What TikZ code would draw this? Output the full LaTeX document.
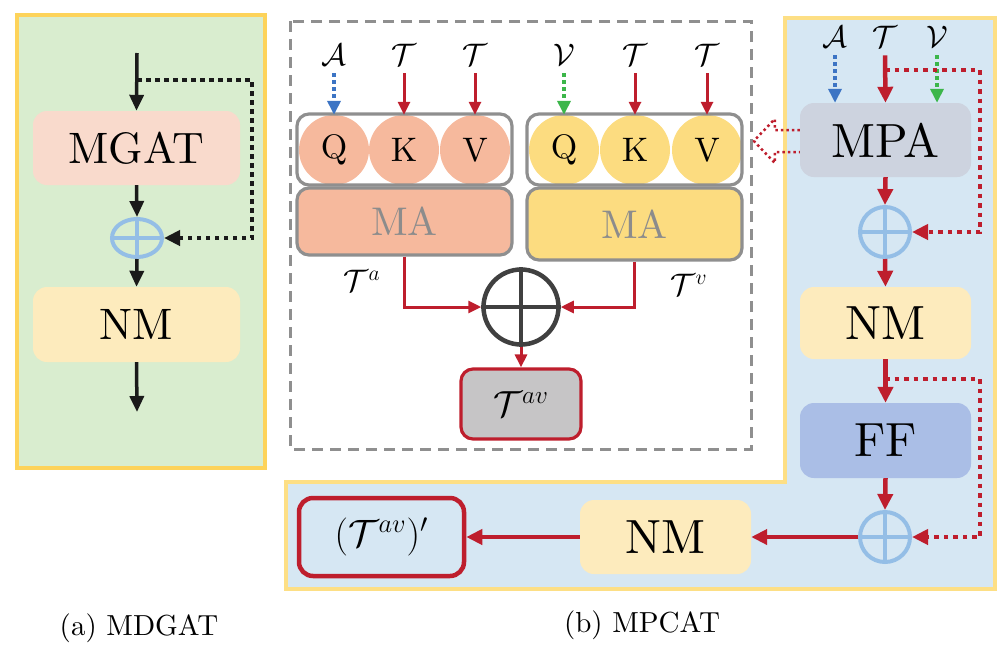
\documentclass[tikz,border=0pt]{standalone}
\usepackage{fontspec}
\setmainfont{lmroman10-regular}[Extension=.otf, BoldFont=lmroman10-bold, ItalicFont=lmroman10-italic]
\usetikzlibrary{arrows.meta,shapes.geometric,calc}
\definecolor{greenbg}{HTML}{D9EDCF}
\definecolor{yelborder}{HTML}{FDD35A}
\definecolor{yelborder2}{HTML}{FDDF85}
\definecolor{mgatc}{HTML}{F9DACC}
\definecolor{nmc}{HTML}{FDEBBD}
\definecolor{plusblue}{HTML}{94BEE6}
\definecolor{salmon}{HTML}{F6B99D}
\definecolor{yelc}{HTML}{FCDC80}
\definecolor{grayb}{HTML}{8F8F8F}
\definecolor{redc}{HTML}{BE1E2D}
\definecolor{bluebg}{HTML}{D6E7F3}
\definecolor{mpac}{HTML}{CDD3DF}
\definecolor{ffc}{HTML}{AABEE6}
\definecolor{tavc}{HTML}{C6C5C6}
\definecolor{dotblue}{HTML}{3C74C4}
\definecolor{dotgreen}{HTML}{3CB64A}
\definecolor{darkplus}{HTML}{404040}
\definecolor{matext}{HTML}{8C8C8C}
\definecolor{blk}{HTML}{1A1A1A}
\tikzset{
  box/.style={rectangle, rounded corners=14pt, inner sep=0pt, anchor=center},
  bigtxt/.style={font=\fontsize{44}{50}\selectfont},
  hugetxt/.style={font=\fontsize{48}{54}\selectfont},
  qkv/.style={circle, minimum size=70pt, inner sep=0pt, font=\fontsize{34}{38}\selectfont},
  cont/.style={rectangle, rounded corners=12pt, draw=grayb, line width=3.2pt, inner sep=0pt},
  lbl/.style={inner sep=1pt, font=\fontsize{20}{24}\selectfont, scale=1.5},
  mathbox/.style={font=\fontsize{20}{24}\selectfont, scale=1.75},
  blkarr/.style={line width=3.5pt, draw=blk, -{Triangle[length=16pt,width=14pt]}},
  blkdot/.style={line width=4.5pt, draw=blk, dash pattern=on 4.5pt off 4.5pt, -{Triangle[length=16pt,width=15pt]}},
  redarr/.style={line width=3pt, draw=redc, -{Triangle[length=13pt,width=12pt]}},
  redthick/.style={line width=4.5pt, draw=redc, -{Triangle[length=16pt,width=15pt]}},
  reddot/.style={line width=4.5pt, draw=redc, dash pattern=on 4.5pt off 5pt, -{Triangle[length=16pt,width=15pt]}},
  bluedot/.style={line width=3.5pt, draw=dotblue, dash pattern=on 3.5pt off 3.5pt, -{Triangle[length=14pt,width=13pt,fill=dotblue]}},
  greendot/.style={line width=3.5pt, draw=dotgreen, dash pattern=on 3.5pt off 3.5pt, -{Triangle[length=14pt,width=13pt,fill=dotgreen]}},
  pluscirc/.style={circle, draw=plusblue, line width=4pt, minimum size=50pt, inner sep=0pt},
}
\begin{document}
\begin{tikzpicture}[x=1pt,y=-1pt]
\useasboundingbox (0,0) rectangle (1008,659);

% ---------------- panel (a)
\draw[fill=greenbg, draw=yelborder, line width=3.5pt] (17,15) rectangle (265,468);
\node[box, fill=mgatc, minimum width=207pt, minimum height=74pt, bigtxt] (mgat) at (136.5,148) {MGAT};
\node[box, fill=nmc, minimum width=207pt, minimum height=75pt, bigtxt] (nma) at (136.5,324.5) {NM};
\node[ellipse, draw=plusblue, line width=4pt, minimum width=50pt, minimum height=38pt, inner sep=0pt] (pa) at (137,238) {};
\draw[plusblue, line width=4pt] (pa.north) -- (pa.south) (pa.west) -- (pa.east);
\coordinate (ain) at (137,53);
\coordinate (abr) at (137,80);
\coordinate (ac1) at (252,80);
\coordinate (ac2) at (252,238);
\coordinate (aout) at (137,412);
\draw[blkarr] (ain) -- (mgat.north);
\draw[blkarr] (mgat.south) -- (pa.north);
\draw[blkarr] (pa.south) -- (nma.north);
\draw[blkarr] (nma.south) -- (aout);
\draw[blkdot] (abr) -- (ac1) -- (ac2) -- (pa.east);
\node[font=\fontsize{29}{33}\selectfont] (capa) at (139,628) {(a) MDGAT};

% ---------------- panel (b) right region
\draw[fill=bluebg, draw=yelborder2, line width=3.5pt]
  (785,18) -- (995,18) -- (995,589) -- (286,589) -- (286,482) -- (785,482) -- cycle;

% dashed box
\draw[grayb, line width=3pt, dash pattern=on 11pt off 7pt] (290,21) rectangle (751,449);

% left group
\node[qkv, fill=salmon] (qa) at (334,150) {Q};
\node[qkv, fill=salmon] (ka) at (404,150) {K};
\node[qkv, fill=salmon] (va) at (475,150) {V};
\node[cont, minimum width=215pt, minimum height=71pt] (conta) at (404.5,149.5) {};
\node[cont, fill=salmon, minimum width=215pt, minimum height=67pt, text=matext, font=\fontsize{40}{44}\selectfont] (maa) at (404.5,221.5) {MA};
% right group
\node[qkv, fill=yelc] (qv) at (564,150) {Q};
\node[qkv, fill=yelc] (kv) at (635,150) {K};
\node[qkv, fill=yelc] (vv) at (707,150) {V};
\node[cont, minimum width=215pt, minimum height=71pt] (contv) at (634.5,149.5) {};
\node[cont, fill=yelc, minimum width=215pt, minimum height=72pt, text=matext, font=\fontsize{40}{44}\selectfont] (mav) at (634.5,224) {MA};

% top labels
\node[lbl] (l1) at (334,55) {$\mathcal{A}$};
\node[lbl] (l2) at (404,55) {$\mathcal{T}$};
\node[lbl] (l3) at (475,55) {$\mathcal{T}$};
\node[lbl] (l4) at (564,55) {$\mathcal{V}$};
\node[lbl] (l5) at (635,55) {$\mathcal{T}$};
\node[lbl] (l6) at (707,55) {$\mathcal{T}$};
\draw[bluedot] (l1.south) ++(0,6) -- (qa.north);
\draw[redarr] (l2.south) ++(0,6) -- (ka.north);
\draw[redarr] (l3.south) ++(0,6) -- (va.north);
\draw[greendot] (l4.south) ++(0,6) -- (qv.north);
\draw[redarr] (l5.south) ++(0,6) -- (kv.north);
\draw[redarr] (l6.south) ++(0,6) -- (vv.north);

% big plus
\node[circle, draw=darkplus, line width=4.5pt, minimum size=75pt, inner sep=0pt] (bp) at (521,307) {};
\draw[darkplus, line width=4.5pt] (bp.north) -- (bp.south) (bp.west) -- (bp.east);
\draw[redarr] (maa.south) |- (bp.west);
\draw[redarr] (mav.south) |- (bp.east);
\node[box, rounded corners=12pt, fill=tavc, draw=redc, line width=3.2pt, minimum width=120pt, minimum height=70pt] (tav) at (521,404) {};
\node[mathbox] (tavt) at (tav.center) {$\mathcal{T}^{av}$};
\draw[redarr] (bp.south) -- (tav.north);
\node[lbl] (ta) at (362,281) {$\mathcal{T}^{a}$};
\node[lbl] (tv) at (689,285) {$\mathcal{T}^{v}$};

% right column
\node[lbl] (r1) at (835,37) {$\mathcal{A}$};
\node[lbl] (r2) at (885,37) {$\mathcal{T}$};
\node[lbl] (r3) at (937,37) {$\mathcal{V}$};
\node[box, fill=mpac, minimum width=171pt, minimum height=74pt, hugetxt] (mpa) at (885.5,140) {MPA};
\node[pluscirc] (p2) at (885,232) {};
\draw[plusblue, line width=4pt] (p2.north) -- (p2.south) (p2.west) -- (p2.east);
\node[box, fill=nmc, minimum width=171pt, minimum height=72pt, hugetxt] (nmb) at (885.5,323) {NM};
\node[box, fill=ffc, minimum width=171pt, minimum height=75pt, hugetxt] (ff) at (885.5,440.5) {FF};
\node[pluscirc] (p3) at (885,537) {};
\draw[plusblue, line width=4pt] (p3.north) -- (p3.south) (p3.west) -- (p3.east);
\node[box, fill=nmc, minimum width=171pt, minimum height=74pt, hugetxt] (nmc) at (665.5,537) {NM};
\node[box, draw=redc, line width=4.5pt, minimum width=165pt, minimum height=78pt] (tavp) at (381.5,537) {};
\node[mathbox, scale=1.05] (tavpt) at (tavp.center) {$(\mathcal{T}^{av})'$};

\coordinate (rb1) at (885,70);
\coordinate (rc1) at (980,70);
\coordinate (rc2) at (980,232);
\coordinate (rb2) at (885,379);
\coordinate (rc3) at (980,379);
\coordinate (rc4) at (980,537);

\draw[bluedot] (r1.south) ++(0,6) -- (r1.south |- mpa.north);
\draw[greendot] (r3.south) ++(0,6) -- (r3.south |- mpa.north);
\draw[reddot] (rb1) -- (rc1) -- (rc2) -- (p2.east);
\draw[redthick] (r2.south) ++(0,6) -- (mpa.north);
\draw[redthick] (mpa.south) -- (p2.north);
\draw[redthick] (p2.south) -- (nmb.north);
\draw[reddot] (rb2) -- (rc3) -- (rc4) -- (p3.east);
\draw[redthick] (nmb.south) -- (ff.north);
\draw[redthick] (ff.south) -- (p3.north);
\draw[redthick] (p3.west) -- (nmc.east);
\draw[redthick] (nmc.west) -- (tavp.east);

% hollow dotted arrow from MPA to dashed box
\draw[redc, line width=2.5pt, dash pattern=on 2.5pt off 3pt, line join=round]
  (mpa.west) ++(0,-10) -- ++(-25,0) -- ++(0,-11) -- ++(-21,22) -- ++(21,22) -- ++(0,-11) -- ++(25,0);

\node[font=\fontsize{29}{33}\selectfont] (capb) at (642,625) {(b) MPCAT};
\end{tikzpicture}
\end{document}
